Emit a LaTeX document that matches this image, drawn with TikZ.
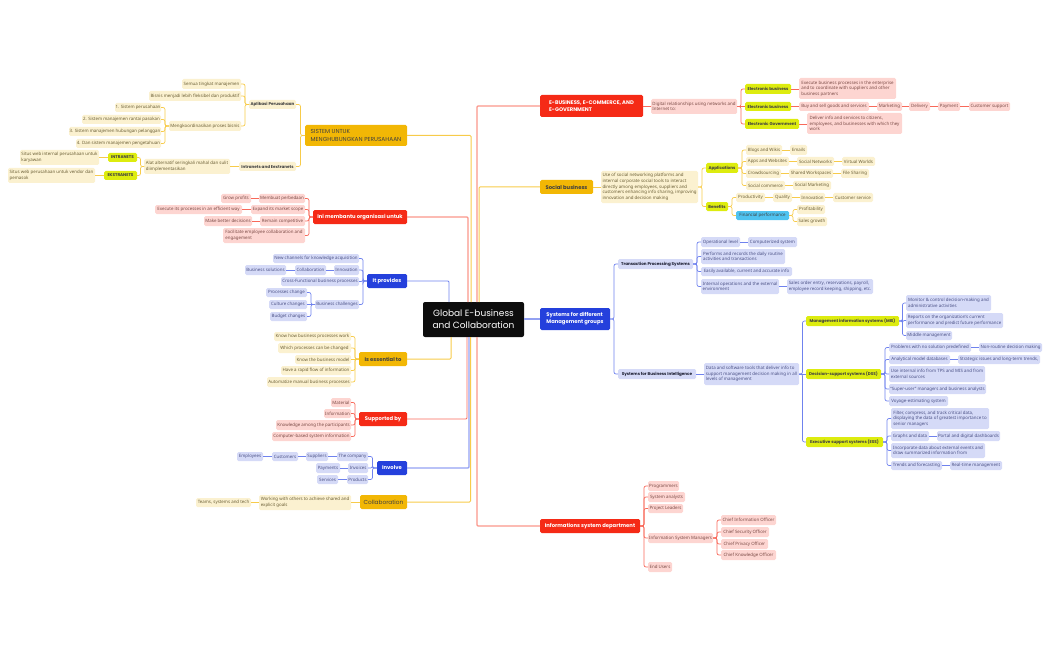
\documentclass[tikz,border=0pt]{standalone}
\usepackage{fontspec}
\setmainfont{Noto Sans}
\newfontfamily\topfont{Poppins}
\usetikzlibrary{calc}
\definecolor{rtop}{HTML}{F52A16}
\definecolor{ytop}{HTML}{F2B705}
\definecolor{btop}{HTML}{2440DC}
\definecolor{rlight}{HTML}{FDD5D1}
\definecolor{ylight}{HTML}{FBF1D0}
\definecolor{blight}{HTML}{D5DAF7}
\definecolor{rtext}{HTML}{7A4A45}
\definecolor{ytext}{HTML}{6A5E35}
\definecolor{btext}{HTML}{4A5085}
\definecolor{limefill}{HTML}{DDEC0F}
\definecolor{cyanfill}{HTML}{4FC3F0}
\definecolor{rline}{HTML}{F8695A}
\definecolor{yline}{HTML}{F7CB4A}
\definecolor{bline}{HTML}{6F82EE}
\tikzset{
  base/.style={rounded corners=1.5pt,inner sep=0pt,outer sep=0pt,align=left,font=\fontsize{4.4}{5.6}\selectfont},
  lr/.style={base,fill=rlight,text=rtext},
  ly/.style={base,fill=ylight,text=ytext},
  lb/.style={base,fill=blight,text=btext},
  lyb/.style={ly,text=black!75,font=\topfont\fontsize{4.1}{5.6}\selectfont\bfseries},
  lbb/.style={lb,text=black!65!btext,font=\topfont\fontsize{4.1}{5.6}\selectfont\bfseries},
  limeb/.style={base,fill=limefill,text=black!75,font=\topfont\fontsize{4.1}{5.6}\selectfont\bfseries},
  cyanb/.style={base,fill=cyanfill,text=black!75,font=\fontsize{4.4}{5.6}\selectfont},
  topr/.style={base,fill=rtop,text=white,font=\topfont\fontsize{5.25}{7.2}\selectfont\bfseries},
  topb/.style={base,fill=btop,text=white,font=\topfont\fontsize{5.25}{7.2}\selectfont\bfseries},
  topy/.style={base,fill=ytop,text=black!75,font=\topfont\fontsize{5.25}{7.2}\selectfont\bfseries},
  topyn/.style={base,fill=ytop,text=black!75,font=\topfont\fontsize{5.8}{7.2}\selectfont},
  root/.style={base,fill=black!95,text=white,align=center,rounded corners=2pt,font=\topfont\fontsize{9}{12}\selectfont},
  cr/.style={draw=rline,line width=0.7pt,rounded corners=2pt},
  cy/.style={draw=yline,line width=0.7pt,rounded corners=2pt},
  cb/.style={draw=bline,line width=0.7pt,rounded corners=2pt},
  mainr/.style={draw=rline!70!white,line width=1.1pt,rounded corners=1pt},
  mainrd/.style={draw=rline,line width=0.9pt,rounded corners=1pt},
  mainy/.style={draw=yline,line width=1pt,rounded corners=1pt},
  mainb/.style={draw=bline,line width=0.9pt,rounded corners=1pt},
  mainbl/.style={draw=bline!75!white,line width=1.3pt,rounded corners=1pt}
}
% style, name, x1, y1, x2, y2, text
\newcommand\bx[7]{\node[#1,minimum width={#5-#3},minimum height={#6-#4}] (#2) at ({(#3+#5)/2},{(#4+#6)/2}) {#7};}
% elbow to a child on the left / right
\newcommand\lkl[3]{\draw[#1] (#2.west) -- ($(#2.west)!.5!(#2.west -| #3.east)$) |- (#3.east);}
\newcommand\lkr[3]{\draw[#1] (#2.east) -- ($(#2.east)!.5!(#2.east -| #3.west)$) |- (#3.west);}
% straight link to a child on the left / right
\newcommand\strl[3]{\draw[#1] (#2.west) -- (#2.west -| #3.east);}
\newcommand\strr[3]{\draw[#1] (#2.east) -- (#2.east -| #3.west);}
\begin{document}
\begin{tikzpicture}[x=1pt,y=-1pt]
\useasboundingbox (0,0) rectangle (1050,650);
% root
\bx{root}{ctr}{423}{302}{524}{337}{Global E-business\\and Collaboration}
% ---------- left: SISTEM
\bx{topyn}{sis}{305}{125}{407}{146}{SISTEM UNTUK\\MENGHUBUNGKAN PERUSAHAAN}
\bx{lyb}{apl}{249}{100}{296}{109}{Aplikasi Perusahaan}
\bx{ly}{sem}{182}{79}{241}{89}{Semua tingkat manajemen}
\bx{ly}{bis}{149}{91}{241}{101}{Bisnis menjadi lebih fleksibel dan produktif}
\bx{ly}{men}{169}{121}{241}{131}{Mengkoordinasikan proses bisnis}
\bx{ly}{s1}{115}{103}{161}{112}{1. Sistem perusahaan}
\bx{ly}{s2}{82}{115}{161}{124}{2. Sistem manajemen rantai pasokan}
\bx{ly}{s3}{69}{127}{161}{136}{3. Sistem manajemen hubungan pelanggan}
\bx{ly}{s4}{76}{139}{161}{148}{4. Dan sistem manajemen pengetahuan}
\bx{lyb}{ine}{239}{162}{296}{171}{Intranets and Eextranets}
\bx{ly}{ala}{144}{159}{230}{174}{Alat alternatif seringkali mahal dan sulit\\diimplementasikan}
\bx{limeb}{int}{108}{153}{137}{162}{INTRANETS}
\bx{limeb}{eks}{104}{171}{137}{180}{EKSTRANETS}
\bx{ly}{swi}{20}{150}{99}{165}{Situs web internal perusahaan untuk\\karyawan}
\bx{ly}{swe}{8}{168}{95}{183}{Situs web perusahaan untuk vendor dan\\pemasok}
\lkl{cy}{sis}{apl}\lkl{cy}{sis}{ine}
\lkl{cy}{apl}{sem}\lkl{cy}{apl}{bis}\lkl{cy}{apl}{men}
\lkl{cy}{men}{s1}\lkl{cy}{men}{s2}\lkl{cy}{men}{s3}\lkl{cy}{men}{s4}
\strl{cy}{ine}{ala}
\lkl{cy}{ala}{int}\lkl{cy}{ala}{eks}
\strl{cy}{int}{swi}\strl{cy}{eks}{swe}
% ---------- left: Ini membantu
\bx{topr}{ini}{313}{210}{407}{224}{Ini membantu organisasi untuk}
\bx{lr}{mem}{259}{194}{305}{203}{Membuat perbedaan}
\bx{lr}{gro}{221}{194}{251}{203}{Grow profits}
\bx{lr}{exp}{251}{205}{305}{214}{Expand its market scope}
\bx{lr}{exe}{155}{205}{242}{214}{Execute its processes in an efficient way}
\bx{lr}{rem}{260}{216}{305}{226}{Remain competitive}
\bx{lr}{mak}{204}{216}{252}{226}{Make better decisions}
\bx{lr}{fac}{223}{228}{305}{243}{Facilitate employee collaboration and\\engagement}
\lkl{cr}{ini}{mem}\lkl{cr}{ini}{exp}\lkl{cr}{ini}{rem}\lkl{cr}{ini}{fac}
\strl{cr}{mem}{gro}\strl{cr}{exp}{exe}\strl{cr}{rem}{mak}
% ---------- left: It provides
\bx{topb}{itp}{367}{274}{407}{288}{It provides}
\bx{lb}{new}{273}{254}{359}{263}{New channels for knowledge acquisition}
\bx{lb}{inn}{334}{265}{359}{275}{Innovation}
\bx{lb}{col}{295}{265}{326}{275}{Collaboration}
\bx{lb}{bso}{245}{265}{286}{275}{Business solutions}
\bx{lb}{cro}{281}{277}{359}{286}{Cross-Functional business processes}
\bx{lb}{bch}{315}{300}{359}{309}{Business challenges}
\bx{lb}{pch}{266}{288}{307}{297}{Processes change}
\bx{lb}{cch}{269}{300}{307}{309}{Culture changes}
\bx{lb}{bud}{270}{312}{307}{321}{Budget changes}
\lkl{cb}{itp}{new}\lkl{cb}{itp}{inn}\lkl{cb}{itp}{cro}\lkl{cb}{itp}{bch}
\strl{cb}{inn}{col}\strl{cb}{col}{bso}
\lkl{cb}{bch}{pch}\strl{cb}{bch}{cch}\lkl{cb}{bch}{bud}
% ---------- left: Is essential to
\bx{topy}{ise}{359}{352}{407}{366}{Is essential to}
\bx{ly}{kh}{274}{332}{351}{341}{Know how business processes work}
\bx{ly}{wh}{278}{343}{351}{353}{Which processes can be changed}
\bx{ly}{kt}{295}{355}{351}{364}{Know the business model}
\bx{ly}{ha}{281}{366}{351}{375}{Have a rapid flow of information}
\bx{ly}{au}{267}{377}{351}{387}{Automatize manual business processes}
\lkl{cy}{ise}{kh}\lkl{cy}{ise}{wh}\strl{cy}{ise}{kt}\lkl{cy}{ise}{ha}\lkl{cy}{ise}{au}
% ---------- left: Supported by
\bx{topr}{sup}{359}{412}{407}{426}{Supported by}
\bx{lr}{mat}{331}{398}{351}{407}{Material}
\bx{lr}{inf}{324}{409}{351}{418}{Information}
\bx{lr}{kno}{276}{420}{351}{430}{Knowledge among the participants}
\bx{lr}{cbi}{272}{432}{351}{441}{Computer-based system information}
\lkl{cr}{sup}{mat}\lkl{cr}{sup}{inf}\lkl{cr}{sup}{kno}\lkl{cr}{sup}{cbi}
% ---------- left: Involve
\bx{topb}{inv}{377}{461}{407}{475}{Involve}
\bx{lb}{tco}{337}{452}{368}{461}{The company}
\bx{lb}{spl}{306}{452}{328}{461}{Suppliers}
\bx{lb}{cus}{272}{452}{298}{461}{Customers}
\bx{lb}{emp}{237}{452}{263}{461}{Employees}
\bx{lb}{ivc}{348}{463}{368}{473}{Invoices}
\bx{lb}{pay}{316}{463}{340}{473}{Payments}
\bx{lb}{pro}{347}{475}{368}{484}{Products}
\bx{lb}{ser}{317}{475}{338}{484}{Services}
\lkl{cb}{inv}{tco}\lkl{cb}{inv}{ivc}\lkl{cb}{inv}{pro}
\strl{cb}{tco}{spl}\strl{cb}{spl}{cus}\strl{cb}{cus}{emp}\strl{cb}{ivc}{pay}\strl{cb}{pro}{ser}
% ---------- left: Collaboration
\bx{topyn}{cll}{360}{495}{407}{509}{Collaboration}
\bx{ly}{wor}{259}{495}{351}{510}{Working with others to achieve shared and\\explicit goals}
\bx{ly}{tea}{196}{498}{251}{507}{Teams, systems and tech}
\strl{cy}{cll}{wor}\strl{cy}{wor}{tea}
% ---------- right: E-BUSINESS
\bx{topr}{ebu}{540}{95}{643}{117}{E-BUSINESS, E-COMMERCE, AND\\E-GOVERNMENT}
\bx{lr}{dig}{651}{99}{737}{114}{Digital relationships using networks and\\Internet to:}
\bx{limeb}{eb1}{745}{84}{791}{94}{Electronic business}
\bx{lr}{eb1a}{799}{78}{896}{99}{Execute business processes in the enterprise\\and to coordinate with suppliers and other\\business partners}
\bx{limeb}{eb2}{745}{102}{791}{111}{Electronic business}
\bx{lr}{buy}{799}{102}{869}{111}{Buy and sell goods and services}
\bx{lr}{mkt}{877}{102}{902}{111}{Marketing}
\bx{lr}{del}{909}{102}{930}{111}{Delivery}
\bx{lr}{pmt}{938}{102}{960}{111}{Payment}
\bx{lr}{css}{969}{102}{1010}{111}{Customer support}
\bx{limeb}{egv}{745}{119}{799}{129}{Electronic Government}
\bx{lr}{dlv}{807}{113}{902}{134}{Deliver info and services to citizens,\\employees, and businesses with which they\\work}
\strr{cr}{ebu}{dig}
\lkr{cr}{dig}{eb1}\strr{cr}{dig}{eb2}\lkr{cr}{dig}{egv}
\strr{cr}{eb1}{eb1a}\strr{cr}{eb2}{buy}\strr{cr}{buy}{mkt}\strr{cr}{mkt}{del}\strr{cr}{del}{pmt}\strr{cr}{pmt}{css}\strr{cr}{egv}{dlv}
% ---------- right: Social business
\bx{topy}{soc}{540}{180}{593}{194}{Social business}
\bx{ly}{use}{601}{171}{698}{203}{Use of social networking platforms and\\internal corporate social tools to interact\\directly among employees, suppliers and\\customers enhancing info sharing, improving\\innovation and decision making}
\bx{limeb}{app}{706}{163}{738}{173}{Applications}
\bx{ly}{blo}{746}{145}{782}{155}{Blogs and Wikis}
\bx{ly}{ema}{790}{145}{807}{155}{Emails}
\bx{ly}{apw}{746}{157}{789}{166}{Apps and Websites}
\bx{ly}{snw}{797}{157}{834}{166}{Social Networks}
\bx{ly}{vir}{842}{157}{875}{166}{Virtual Worlds}
\bx{ly}{crw}{746}{169}{781}{178}{Crowdsourcing}
\bx{ly}{shw}{789}{169}{833}{178}{Shared Workspaces}
\bx{ly}{fil}{841}{169}{869}{178}{File Sharing}
\bx{ly}{scm}{746}{181}{785}{190}{Social commerce}
\bx{ly}{smk}{793}{181}{831}{190}{Social Marketing}
\bx{limeb}{ben}{706}{202}{728}{211}{Benefits}
\bx{ly}{prd}{736}{193}{765}{202}{Productivity}
\bx{ly}{qua}{773}{193}{792}{202}{Quality}
\bx{ly}{inr}{800}{193}{825}{202}{Innovation}
\bx{ly}{csv}{833}{193}{873}{202}{Customer service}
\bx{cyanb}{fin}{736}{211}{789}{220}{Financial performance}
\bx{ly}{pft}{797}{205}{825}{214}{Profitability}
\bx{ly}{sgr}{797}{217}{827}{226}{Sales growth}
\strr{cy}{soc}{use}
\lkr{cy}{use}{app}\lkr{cy}{use}{ben}
\lkr{cy}{app}{blo}\lkr{cy}{app}{apw}\lkr{cy}{app}{crw}\lkr{cy}{app}{scm}
\strr{cy}{blo}{ema}\strr{cy}{apw}{snw}\strr{cy}{snw}{vir}\strr{cy}{crw}{shw}\strr{cy}{shw}{fil}\strr{cy}{scm}{smk}
\lkr{cy}{ben}{prd}\lkr{cy}{ben}{fin}
\strr{cy}{prd}{qua}\strr{cy}{qua}{inr}\strr{cy}{inr}{csv}
\lkr{cy}{fin}{pft}\lkr{cy}{fin}{sgr}
% ---------- right: Systems
\bx{topb}{sys}{540}{308}{610}{330}{Systems for different\\Management groups}
\bx{lbb}{tps}{618}{259}{693}{269}{Transaction Processing Systems}
\bx{lb}{opr}{701}{237}{740}{247}{Operational level}
\bx{lb}{cmp}{748}{237}{797}{247}{Computerized system}
\bx{lb}{prf}{701}{249}{785}{264}{Performs and records the daily routine\\activities and transactions}
\bx{lb}{eas}{701}{267}{792}{276}{Easily available, current and  accurate info}
\bx{lb}{itn}{701}{279}{779}{294}{Internal operations and the external\\environment}
\bx{lb}{sal}{787}{279}{873}{294}{Sales order entry, reservations, payroll,\\employee record keeping, shipping, etc.}
\bx{lbb}{sbi}{618}{369}{696}{379}{Systems for Business Intelligence}
\bx{lb}{dat}{704}{363}{799}{385}{Data and software tools that deliver info to\\support management decision making in all\\levels of management}
\bx{limeb}{mis}{806}{316}{899}{326}{Management information systems (MIS)}
\bx{lb}{mon}{906}{295}{991}{311}{Monitor \& control decision-making and\\administrative activities}
\bx{lb}{rep}{906}{313}{1003}{328}{Reports on the organization's current\\performance and predict future performance}
\bx{lb}{mid}{906}{331}{952}{340}{Middle management}
\bx{limeb}{dss}{806}{369}{881}{379}{Decision-support systems (DSS)}
\bx{lb}{prb}{889}{343}{971}{352}{Problems with no solution  predefined}
\bx{lb}{nrt}{979}{343}{1042}{352}{Non-routine decision making}
\bx{lb}{ana}{889}{355}{950}{364}{Analytical model databases}
\bx{lb}{stg}{958}{355}{1040}{364}{Strategic  issues and long-term trends,}
\bx{lb}{uin}{889}{366}{985}{382}{Use internal info from TPS and MIS and from\\external sources}
\bx{lb}{sus}{889}{384}{986}{394}{``Super-user'' managers and business analysts}
\bx{lb}{voy}{889}{396}{948}{406}{Voyage-estimating system}
\bx{limeb}{ess}{806}{437}{883}{447}{Executive support systems (ESS)}
\bx{lb}{flt}{891}{408}{989}{429}{Filter, compress, and track critical data,\\displaying the data of greatest importance to\\senior managers}
\bx{lb}{grp}{891}{431}{929}{441}{Graphs and data}
\bx{lb}{ptl}{937}{431}{1000}{441}{Portal and digital dashboards}
\bx{lb}{inc}{891}{443}{985}{458}{Incorporate data about external events and\\draw summarized information from}
\bx{lb}{trn}{891}{461}{942}{470}{Trends and forecasting}
\bx{lb}{rtm}{950}{461}{1002}{470}{Real-time management}
\lkr{cb}{sys}{tps}\lkr{cb}{sys}{sbi}
\lkr{cb}{tps}{opr}\lkr{cb}{tps}{prf}\lkr{cb}{tps}{eas}\lkr{cb}{tps}{itn}
\strr{cb}{opr}{cmp}\strr{cb}{itn}{sal}
\strr{cb}{sbi}{dat}
\lkr{cb}{dat}{mis}\strr{cb}{dat}{dss}\lkr{cb}{dat}{ess}
\lkr{cb}{mis}{mon}\lkr{cb}{mis}{rep}\lkr{cb}{mis}{mid}
\lkr{cb}{dss}{prb}\lkr{cb}{dss}{ana}\lkr{cb}{dss}{uin}\lkr{cb}{dss}{sus}\lkr{cb}{dss}{voy}
\strr{cb}{prb}{nrt}\strr{cb}{ana}{stg}
\lkr{cb}{ess}{flt}\lkr{cb}{ess}{grp}\lkr{cb}{ess}{inc}\lkr{cb}{ess}{trn}
\strr{cb}{grp}{ptl}\strr{cb}{trn}{rtm}
% ---------- right: Informations
\bx{topr}{isd}{540}{519}{640}{533}{Informations system department}
\bx{lr}{prg}{648}{481}{679}{491}{Programmers}
\bx{lr}{san}{648}{492}{685}{502}{System analysts}
\bx{lr}{pld}{648}{504}{683}{513}{Project Leaders}
\bx{lr}{ism}{648}{533}{713}{543}{Information System Managers}
\bx{lr}{end}{648}{562}{672}{572}{End Users}
\bx{lr}{cio}{721}{515}{776}{525}{Chief Information Officer}
\bx{lr}{cso}{721}{527}{769}{537}{Chief Security Officer}
\bx{lr}{cpo}{721}{539}{768}{549}{Chief Privacy Officer}
\bx{lr}{cko}{721}{550}{776}{560}{Chief Knowledge Officer}
\lkr{cr}{isd}{prg}\lkr{cr}{isd}{san}\lkr{cr}{isd}{pld}\lkr{cr}{isd}{ism}\lkr{cr}{isd}{end}
\lkr{cr}{ism}{cio}\lkr{cr}{ism}{cso}\lkr{cr}{ism}{cpo}\lkr{cr}{ism}{cko}
% ---------- main branches
\draw[mainy] (sis.east) -| ($(ctr.north west)+(48,0)$);
\draw[mainr] (ini.east) -| ($(ctr.north west)+(45,0)$);
\draw[mainb] (itp.east) -| ($(ctr.north west)+(26,0)$);
\draw[mainy] (ise.east) -| ($(ctr.south west)+(28,0)$);
\draw[mainrd] (sup.east) -| ($(ctr.south west)+(44,0)$);
\draw[mainbl] (inv.east) -| ($(ctr.south west)+(46,0)$);
\draw[mainy] (cll.east) -| ($(ctr.south west)+(47.5,0)$);
\draw[mainr] (ebu.west) -| ($(ctr.north west)+(54,0)$);
\draw[mainy] (soc.west) -| ($(ctr.north west)+(56,0)$);
\draw[mainbl] (sys.west) -- (sys.west -| ctr.east);
\draw[mainr] (isd.west) -| ($(ctr.south west)+(54,0)$);
\end{tikzpicture}
\end{document}
